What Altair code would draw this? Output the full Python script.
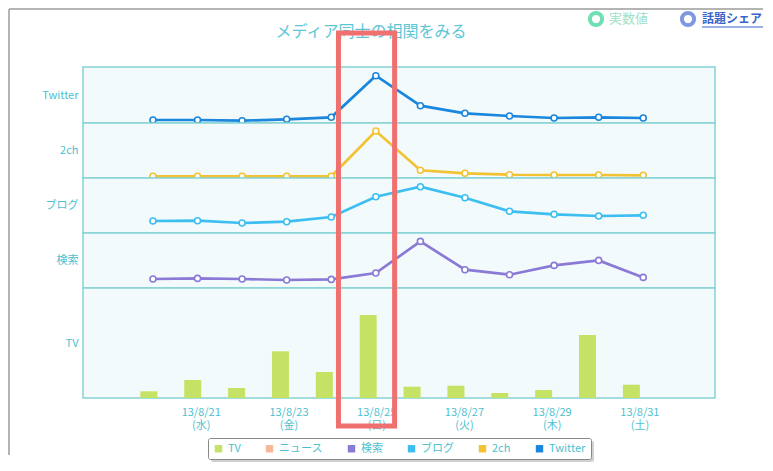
import altair as alt
import pandas as pd

# ---------------- data ----------------
days = [20, 21, 22, 23, 24, 25, 26, 27, 28, 29, 30, 31]
tick_days = [21, 23, 25, 27, 29, 31]
tick_dates = ["13/8/21", "13/8/23", "13/8/25", "13/8/27", "13/8/29", "13/8/31"]
tick_weekdays = ["(水)", "(金)", "(日)", "(火)", "(木)", "(土)"]

twitter = [3.0, 3.0, 2.3, 3.7, 5.7, 47.3, 17.3, 9.7, 7.0, 5.0, 5.7, 5.0]
ch2 = [1.7, 1.7, 1.7, 1.7, 1.7, 47.0, 7.7, 4.7, 3.3, 3.0, 3.0, 2.7]
blog = [12.0, 12.3, 10.0, 11.3, 16.0, 36.3, 46.3, 35.3, 21.7, 18.7, 17.0, 17.7]
search = [9.0, 9.6, 9.0, 8.0, 8.6, 15.0, 46.6, 18.3, 13.3, 22.6, 27.6, 10.6]
tv = [6.7, 18.0, 10.0, 46.7, 26.0, 83.0, 11.3, 12.3, 5.0, 8.0, 63.0, 13.3]

legend_names = ["TV", "ニュース", "検索", "ブログ", "2ch", "Twitter"]
legend_colors = ["#c6e264", "#f8b898", "#8a7ad6", "#3cbff0", "#f3c233", "#1a86de"]

title_text = "メディア同士の相関をみる"
btn1_text = "実数値"
btn2_text = "話題シェア"

highlight = [24.14, 25.42]

# ---------------- styling ----------------
FONT = "Noto Sans CJK JP"
TEAL = "#4dbfcf"
W = 632
xscale = alt.Scale(domain=[18.43, 32.61], nice=False, zero=False)

def ypanel_axis(name, h):
    return alt.Axis(title=name, titleAngle=0, titleAlign="right", titleBaseline="middle",
                    titleX=-5, titleY=h / 2, titleColor=TEAL, titleFontSize=11,
                    titleFontWeight="normal", titleFont=FONT,
                    labels=False, ticks=False, domain=False, grid=False)

def line_panel(name, vals, color, h):
    df = pd.DataFrame({"day": days, "value": vals})
    base = alt.Chart(df)
    enc = dict(
        x=alt.X("day:Q", scale=xscale, axis=None),
        y=alt.Y("value:Q", scale=alt.Scale(domain=[0, h], nice=False, zero=True),
                axis=ypanel_axis(name, h)),
    )
    line = base.mark_line(color=color, strokeWidth=2.7).encode(**enc)
    pts = base.mark_point(shape="circle", filled=True, fill="white", stroke=color,
                          strokeWidth=1.6, size=36, opacity=1).encode(**enc)
    return line, pts

one = pd.DataFrame({"a": [0]})

# frame lines of the screenshot
frame_top = alt.Chart(one).mark_rule(color="#b4b4b4", strokeWidth=2).encode(
    x=alt.value(-74), x2=alt.value(680), y=alt.value(-58))
frame_left = alt.Chart(one).mark_rule(color="#b4b4b4", strokeWidth=2).encode(
    x=alt.value(-74), y=alt.value(-58), y2=alt.value(388))

# top panel extras: title and buttons
title = alt.Chart(pd.DataFrame({"t": [title_text]})).mark_text(
    font=FONT, fontSize=16, color="#5cc6d6", align="center", baseline="middle"
).encode(text="t:N", x=alt.value(288), y=alt.value(-35))

ring1 = alt.Chart(one).mark_point(shape="circle", filled=False, stroke="#6fe0b4",
                                  strokeWidth=4, size=150, opacity=1).encode(
    x=alt.value(513), y=alt.value(-48))
ring2 = alt.Chart(one).mark_point(shape="circle", filled=False, stroke="#7f98e0",
                                  strokeWidth=4, size=150, opacity=1).encode(
    x=alt.value(605), y=alt.value(-48))
txt1 = alt.Chart(pd.DataFrame({"t": [btn1_text]})).mark_text(
    font=FONT, fontSize=13, color="#9fe0c6", align="left", baseline="middle"
).encode(text="t:N", x=alt.value(526), y=alt.value(-48))
txt2 = alt.Chart(pd.DataFrame({"t": [btn2_text]})).mark_text(
    font=FONT, fontSize=12, fontWeight="bold", color="#3a64c8", align="left", baseline="middle"
).encode(text="t:N", x=alt.value(619), y=alt.value(-48))
uline = alt.Chart(one).mark_rule(color="#3a64c8", strokeWidth=1).encode(
    x=alt.value(619), x2=alt.value(680), y=alt.value(-40))

l1, p1 = line_panel("Twitter", twitter, "#1a86de", 56)
panel_tw = alt.layer(l1, p1, frame_top, frame_left, title, ring1, ring2, txt1, txt2,
                     uline).properties(width=W, height=56)

l2, p2 = line_panel("2ch", ch2, "#f3c233", 55)
panel_2ch = alt.layer(l2, p2).properties(width=W, height=55)

l3, p3 = line_panel("ブログ", blog, "#3cbff0", 55)
panel_blog = alt.layer(l3, p3).properties(width=W, height=55)

l4, p4 = line_panel("検索", search, "#8a7ad6", 55)
panel_search = alt.layer(l4, p4).properties(width=W, height=55)

# TV panel
label_expr = ""
for d, a, b in zip(tick_days, tick_dates, tick_weekdays):
    label_expr += f"datum.value == {d} ? ['{a}', '{b}'] : "
label_expr += "''"

tv_df = pd.DataFrame({"day": days, "value": tv, "series": ["TV"] * len(days)})
bars = alt.Chart(tv_df).mark_bar(size=17, xOffset=-8).encode(
    x=alt.X("day:Q", scale=xscale,
            axis=alt.Axis(values=tick_days, labelExpr=label_expr, title=None,
                          labelColor=TEAL, labelFontSize=11, labelFont=FONT,
                          labelLineHeight=13, labelPadding=8, labelBaseline="top",
                          ticks=False, domain=False, grid=False, labelFlush=False)),
    y=alt.Y("value:Q", scale=alt.Scale(domain=[0, 110], nice=False),
            axis=ypanel_axis("TV", 110)),
    color=alt.Color("series:N",
                    scale=alt.Scale(domain=legend_names, range=legend_colors),
                    legend=alt.Legend(orient="none", legendX=125, legendY=371,
                                      direction="horizontal", columns=6, title=None,
                                      symbolType="square", symbolSize=55,
                                      labelColor=TEAL, labelFontSize=11, labelFont=FONT,
                                      columnPadding=23, padding=5,
                                      strokeColor="#888888", fillColor="white",
                                      cornerRadius=2)),
)

hl_df = pd.DataFrame({"x1": [highlight[0]], "x2": [highlight[1]]})
hl = alt.Chart(hl_df).mark_rect(fillOpacity=0, stroke="#f07070", strokeWidth=5).encode(
    x=alt.X("x1:Q", scale=xscale), x2="x2:Q",
    y=alt.value(-255), y2=alt.value(138))

# soft drop shadow behind the legend box
shadow = alt.Chart(one).mark_rect(fill="#9a9a9a", opacity=0.45, cornerRadius=2).encode(
    x=alt.value(128), x2=alt.value(511), y=alt.value(153), y2=alt.value(174))

panel_tv = alt.layer(bars, hl, shadow).properties(width=W, height=110)

chart = alt.vconcat(panel_tw, panel_2ch, panel_blog, panel_search, panel_tv,
                    spacing=0, bounds="flush").properties(
    padding={"left": -1, "top": -4, "right": 0, "bottom": 0},
    background="white",
).configure(font=FONT).configure_view(
    fill="#f3fafb", stroke="#86d2d5", strokeWidth=1.5
)

chart.save("out.html", embed_options={"renderer": "svg", "actions": False})
